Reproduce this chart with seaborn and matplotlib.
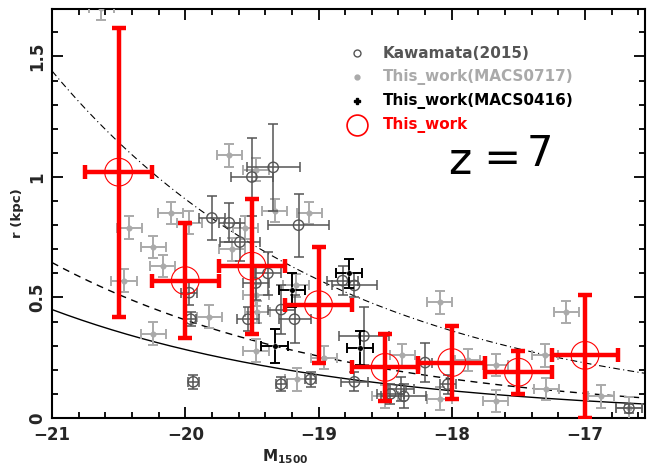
import numpy as np
import pandas as pd
import seaborn as sns
import matplotlib
matplotlib.use("Agg")
import matplotlib.pyplot as plt
from matplotlib.ticker import MultipleLocator, FixedLocator, FixedFormatter

# ---------------- data ----------------
# Kawamata (2015): M1500, r, xerr, yerr
kaw_M = [-19.80, -19.67, -19.50, -19.34, -19.15, -19.59, -19.47, -19.38, -19.97, -19.96,
         -19.94, -19.53, -19.28, -19.18, -18.82, -18.73, -18.66, -19.28, -19.06, -18.73,
         -18.46, -18.38, -18.36, -18.20, -18.03, -16.67]
kaw_r = [0.83, 0.81, 1.00, 1.04, 0.80, 0.73, 0.56, 0.60, 0.52, 0.41,
         0.15, 0.41, 0.45, 0.41, 0.57, 0.55, 0.34, 0.14, 0.16, 0.15,
         0.10, 0.12, 0.09, 0.23, 0.14, 0.04]
kaw_xe = [0.10, 0.08, 0.16, 0.20, 0.23, 0.15, 0.10, 0.10, 0.06, 0.04,
          0.04, 0.08, 0.10, 0.12, 0.12, 0.17, 0.19, 0.04, 0.04, 0.10,
          0.10, 0.10, 0.17, 0.05, 0.06, 0.10]
kaw_re = [0.09, 0.08, 0.16, 0.18, 0.13, 0.08, 0.07, 0.09, 0.05, 0.03,
          0.03, 0.05, 0.10, 0.10, 0.06, 0.05, 0.12, 0.03, 0.03, 0.04,
          0.04, 0.05, 0.05, 0.08, 0.04, 0.02]

# This work, MACS0717
m17_M = [-20.63, -19.67, -19.47, -19.33, -19.07, -20.11, -19.97, -20.42, -19.55, -20.24,
         -19.65, -20.17, -20.46, -19.82, -20.24, -19.47, -19.46, -19.47, -19.16, -18.96,
         -19.17, -18.09, -18.37, -17.88, -17.67, -17.30, -18.50, -18.09, -17.67, -17.29,
         -17.14, -16.88, -16.67]
m17_r = [1.70, 1.09, 1.03, 0.86, 0.85, 0.85, 0.81, 0.79, 0.79, 0.71,
         0.70, 0.63, 0.57, 0.42, 0.35, 0.51, 0.44, 0.28, 0.16, 0.25,
         0.55, 0.48, 0.26, 0.24, 0.22, 0.26, 0.09, 0.08, 0.07, 0.12,
         0.44, 0.09, 0.04]
m17_xe = 0.095
m17_re = 0.047

# This work, MACS0416
m16_M = [-19.20, -19.33, -18.77, -18.69]
m16_r = [0.53, 0.30, 0.60, 0.29]
m16_xe = 0.10
m16_re = [0.07, 0.07, 0.06, 0.07]

# This work (binned)
bin_M = [-20.5, -20.0, -19.5, -19.0, -18.5, -18.0, -17.5, -17.0]
bin_r = [1.02, 0.57, 0.63, 0.47, 0.21, 0.23, 0.19, 0.26]
bin_lo = [0.42, 0.33, 0.35, 0.23, 0.07, 0.08, 0.10, 0.00]
bin_hi = [1.62, 0.81, 0.91, 0.71, 0.35, 0.38, 0.28, 0.51]
bin_xe = 0.25

# size-luminosity relations r = r0 * (L/L0)^beta, normalised at M = -21
rel_r0 = [0.45, 0.645, 1.44]
rel_beta = 0.5
rel_style = ["-", (0, (5, 4)), (0, (6, 3, 1, 3))]
rel_lw = [1.0, 1.0, 0.8]

legend_labels = ["Kawamata(2015)", "This_work(MACS0717)", "This_work(MACS0416)", "This_work"]
legend_colors = ["#555555", "#aaaaaa", "#000000", "#ff0000"]
xtick_vals = [-21, -20, -19, -18, -17]
xtick_labels = ["\u221221", "\u221220", "\u221219", "\u221218", "\u221217"]
ytick_vals = [0, 0.5, 1, 1.5]
ytick_labels = ["0", "0.5", "1", "1.5"]

# ---------------- plot ----------------
sns.set_theme(style="ticks")
plt.rcParams['font.family'] = ['DejaVu Sans']

fig = plt.figure(figsize=(6.47, 4.70), dpi=100)
ax = fig.add_axes([52/647, 52/470, 593/647, 409/470])

KCOL = "#555555"
LCOL = "#aaaaaa"

# relation curves
Mgrid = np.linspace(-21, -16.55, 200)
for r0, ls, lw in zip(rel_r0, rel_style, rel_lw):
    rr = r0 * 10 ** (-0.4 * rel_beta * (Mgrid + 21))
    sns.lineplot(x=Mgrid, y=rr, ax=ax, color="black", lw=lw, linestyle=ls, zorder=2)

# MACS0717
ax.errorbar(m17_M, m17_r, xerr=m17_xe, yerr=m17_re, fmt="none", ecolor=LCOL,
            elinewidth=1.4, capsize=3.5, capthick=1.4, zorder=3)
sns.scatterplot(x=m17_M, y=m17_r, ax=ax, color=LCOL, s=16, edgecolor=LCOL, zorder=3)

# Kawamata
ax.errorbar(kaw_M, kaw_r, xerr=kaw_xe, yerr=kaw_re, fmt="none", ecolor=KCOL,
            elinewidth=1.1, capsize=3.5, capthick=1.1, zorder=4)
sns.scatterplot(x=kaw_M, y=kaw_r, ax=ax, facecolor="none", edgecolor=KCOL, s=55,
                linewidth=1.0, zorder=4)

# MACS0416
ax.errorbar(m16_M, m16_r, xerr=m16_xe, yerr=m16_re, fmt="none", ecolor="black",
            elinewidth=1.4, capsize=3.5, capthick=1.4, zorder=5)
sns.scatterplot(x=m16_M, y=m16_r, ax=ax, color="black", s=16, zorder=5)

# binned red
yerr = [np.array(bin_r) - np.array(bin_lo), np.array(bin_hi) - np.array(bin_r)]
ax.errorbar(bin_M, bin_r, xerr=bin_xe, yerr=yerr, fmt="none", ecolor="red",
            elinewidth=3.2, capsize=5, capthick=3.2, zorder=6)
sns.scatterplot(x=bin_M, y=bin_r, ax=ax, facecolor="none", edgecolor="red", s=400,
                linewidth=0.8, zorder=7)

ax.set_xlim(-21, -16.55)
ax.set_ylim(0, 1.697)

ax.xaxis.set_major_locator(FixedLocator(xtick_vals))
ax.xaxis.set_major_formatter(FixedFormatter(xtick_labels))
ax.xaxis.set_minor_locator(MultipleLocator(0.2))
ax.yaxis.set_major_locator(FixedLocator(ytick_vals))
ax.yaxis.set_major_formatter(FixedFormatter(ytick_labels))
ax.yaxis.set_minor_locator(MultipleLocator(0.1))

ax.tick_params(which="both", direction="in", top=True, right=True, width=1.3, color="black")
ax.tick_params(which="major", length=8, labelsize=12, pad=6)
ax.tick_params(which="minor", length=4.5)
ax.tick_params(axis="y", which="major", pad=4)
for lab in ax.get_yticklabels():
    lab.set_rotation(90)
    lab.set_va("center")
    lab.set_fontweight("bold")
for lab in ax.get_xticklabels():
    lab.set_fontweight("bold")
for s in ax.spines.values():
    s.set_linewidth(1.5)
    s.set_color("black")

ax.set_xlabel("")
ax.set_ylabel("")
fig.text(285/647, 1 - 457/470, r"$\mathbf{M_{1500}}$", ha="center", va="center", fontsize=11)
fig.text(18/647, 1 - 213/470, "r (kpc)", rotation=90, ha="center", va="center",
         fontsize=9.5, fontweight="bold")

# legend (manual)
leg_y = [0.892, 0.834, 0.775, 0.716]
mk = [dict(marker="o", mfc="none", mec=KCOL, ms=5, mew=1.0),
      dict(marker="o", mfc=LCOL, mec=LCOL, ms=3.5),
      dict(marker="P", mfc="black", mec="black", ms=4.5),
      dict(marker="o", mfc="none", mec="red", ms=15, mew=1.2)]
for yy, lab, col, m in zip(leg_y, legend_labels, legend_colors, mk):
    ax.plot([0.514], [yy], transform=ax.transAxes, linestyle="none", **m)
    ax.text(0.558, yy, lab, transform=ax.transAxes, color=col, fontsize=11,
            fontweight="bold", va="center", ha="left")

# "z=7" label with wide spacing
ax.text(0.688, 0.626, "z", transform=ax.transAxes, fontsize=32, ha="center",
        va="center", color="black")
ax.text(0.758, 0.632, "=", transform=ax.transAxes, fontsize=32, ha="center",
        va="center", color="black")
ax.text(0.823, 0.645, "7", transform=ax.transAxes, fontsize=30, ha="center",
        va="center", color="black")

fig.savefig("out.png", dpi=100)
